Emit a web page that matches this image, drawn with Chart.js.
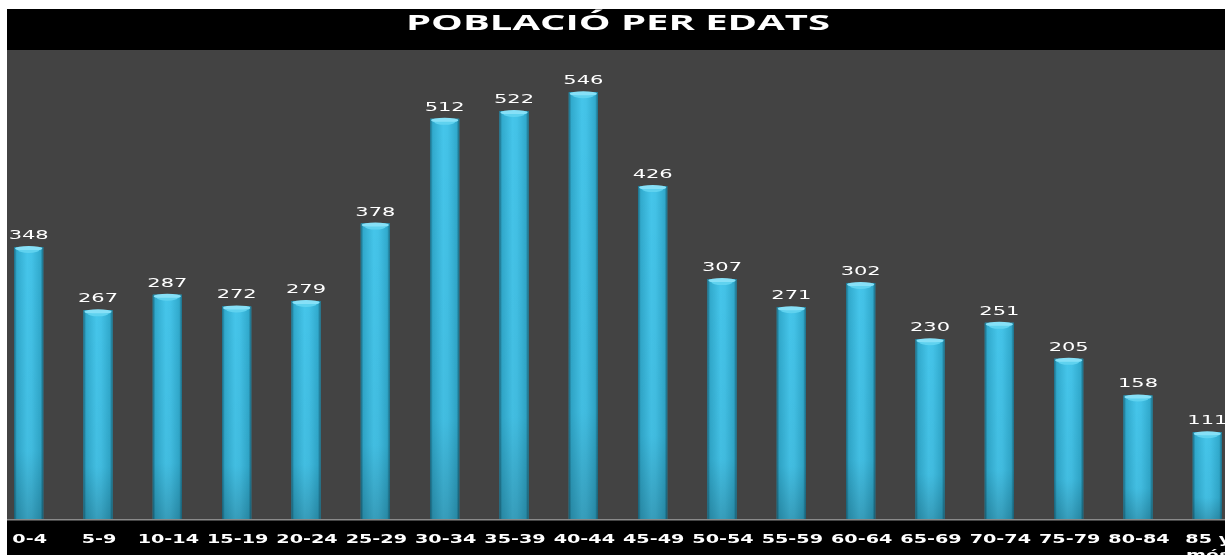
<!DOCTYPE html>
<html>
<head>
<meta charset="utf-8">
<script src="https://cdn.jsdelivr.net/npm/chart.js@4.4.0/dist/chart.umd.min.js"></script>
<style>
  html, body { margin: 0; padding: 0; background: #fff; overflow: hidden; }
  #wrap { position: absolute; left: 7px; top: 9px; width: 1218px; height: 546px; overflow: hidden; background: #000; }
  #chart { position: absolute; left: -13px; top: 0; }
</style>
</head>
<body>
<div id="wrap"><canvas id="chart" width="1248" height="560"></canvas></div>
<script>
const chartTitle = "POBLACIÓ PER EDATS";
const ageGroups = ["0-4", "5-9", "10-14", "15-19", "20-24", "25-29", "30-34", "35-39", "40-44",
  "45-49", "50-54", "55-59", "60-64", "65-69", "70-74", "75-79", "80-84", ["85 y", "més"]];
const population = [348, 267, 287, 272, 279, 378, 512, 522, 546, 426, 307, 271, 302, 230, 251, 205, 158, 111];

// draws text stretched horizontally (the original is rendered wide)
function wideText(ctx, text, x, y, sx) {
    ctx.save();
    ctx.translate(x, y);
    ctx.scale(sx, 1);
    ctx.fillText(text, 0, 0);
    ctx.restore();
}

const decor = {
    id: "decor",
    beforeDraw(chart) {
        const { ctx, chartArea: a } = chart;
        ctx.save();
        ctx.fillStyle = "#000";
        ctx.fillRect(0, 0, chart.width, chart.height);
        ctx.fillStyle = "#434343";
        ctx.fillRect(0, a.top, chart.width, a.bottom - a.top);
        ctx.fillStyle = "#8a8a8a";
        ctx.fillRect(0, a.bottom, chart.width, 1.5);

        // title
        ctx.fillStyle = "#fff";
        ctx.font = "bold 21px 'Open Sans'";
        ctx.textAlign = "center";
        ctx.textBaseline = "alphabetic";
        const w = ctx.measureText(chartTitle).width;
        wideText(ctx, chartTitle, chart.width / 2, 21, 424 / w);
        ctx.restore();
    },
    afterDatasetsDraw(chart) {
        const { ctx, chartArea: a } = chart;
        const meta = chart.getDatasetMeta(0);
        const xScale = chart.scales.x;
        ctx.save();
        meta.data.forEach((bar, i) => {
            const half = bar.width / 2;
            const left = bar.x - half;
            const g = ctx.createLinearGradient(left, 0, left + bar.width, 0);
            g.addColorStop(0, "#1b6a82");
            g.addColorStop(0.09, "#31aacd");
            g.addColorStop(0.45, "#45c5ea");
            g.addColorStop(0.6, "#43c2e7");
            g.addColorStop(0.91, "#31aacd");
            g.addColorStop(1, "#1b6a82");
            ctx.fillStyle = g;
            ctx.fillRect(left, bar.y, bar.width, bar.base - bar.y);
            // darker toward the bottom
            const v = ctx.createLinearGradient(0, bar.y, 0, bar.base);
            v.addColorStop(0, "rgba(0,0,0,0)");
            v.addColorStop(0.75, "rgba(0,0,0,0.04)");
            v.addColorStop(1, "rgba(0,0,0,0.2)");
            ctx.fillStyle = v;
            ctx.fillRect(left, bar.y, bar.width, bar.base - bar.y);
            // top cap
            ctx.fillStyle = "#86e0f7";
            ctx.beginPath();
            ctx.ellipse(bar.x, bar.y + 1.5, half - 1, 2.5, 0, 0, Math.PI * 2);
            ctx.fill();
            ctx.fillStyle = "#5fd2ef";
            ctx.beginPath();
            ctx.ellipse(bar.x, bar.y + 3, half - 4, 3, 0, 0, Math.PI);
            ctx.fill();

            // value label
            ctx.fillStyle = "#fff";
            ctx.font = "12px 'DejaVu Sans'";
            ctx.textAlign = "center";
            ctx.textBaseline = "alphabetic";
            wideText(ctx, String(population[i]), bar.x, bar.y - 8, 1.75);
        });

        // category labels
        ctx.fillStyle = "#fff";
        ctx.font = "bold 12px 'DejaVu Sans'";
        ctx.textAlign = "center";
        ageGroups.forEach((lab, i) => {
            const x = xScale.getPixelForValue(i);
            const lines = Array.isArray(lab) ? lab : [lab];
            lines.forEach((ln, k) => {
                wideText(ctx, ln, x + 1, a.bottom + 24 + k * 16, 1.6);
            });
        });
        ctx.restore();
    }
};

new Chart(document.getElementById("chart"), {
    type: "bar",
    data: {
        labels: ageGroups,
        datasets: [{
            data: population,
            backgroundColor: "#3bb8dc",
            borderWidth: 0,
            categoryPercentage: 1,
            barPercentage: 0.42
        }]
    },
    options: {
        responsive: false,
        animation: false,
        devicePixelRatio: 1,
        layout: { padding: { top: 41, bottom: 50, left: 0, right: 0 } },
        plugins: { legend: { display: false }, tooltip: { enabled: false }, title: { display: false } },
        scales: {
            x: { display: false },
            y: { display: false, min: 0, max: 600 }
        }
    },
    plugins: [decor]
});
</script>
</body>
</html>
